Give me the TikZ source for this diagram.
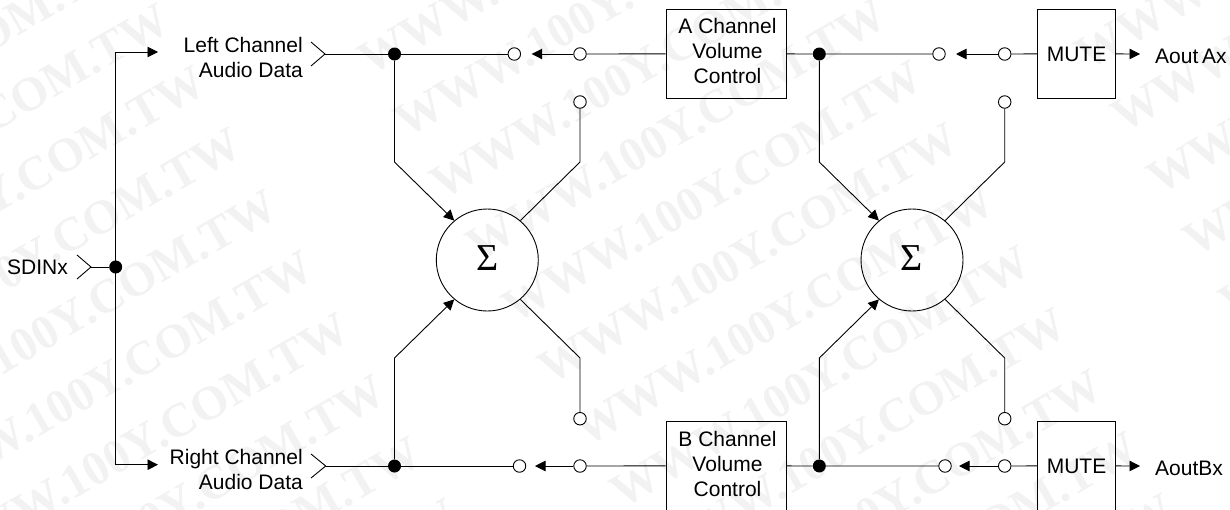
\documentclass[tikz,border=0pt]{standalone}
\usepackage{fontspec}
\setmainfont{Liberation Sans}
\newfontfamily\wmfont{Liberation Serif}
\usetikzlibrary{arrows.meta}
\definecolor{wmgray}{HTML}{F2F2F2}
\tikzset{
  wire/.style={draw=black,line width=0.9pt},
  arr/.style={wire,-{Triangle[length=10.5pt,width=10.5pt]}},
  dot/.style={circle,fill=black,inner sep=0pt,minimum size=13pt},
  term/.style={circle,draw=black,fill=white,line width=0.9pt,inner sep=0pt,minimum size=12.5pt},
  box/.style={draw=black,line width=0.9pt,inner sep=0pt},
  lbl/.style={inner sep=0pt,align=right,font=\fontsize{21}{25}\selectfont},
  ctr/.style={inner sep=0pt,align=center,font=\fontsize{21}{25}\selectfont},
  sum/.style={circle,draw=black,line width=0.9pt,inner sep=0pt,minimum size=102pt},
  sym/.style={inner sep=0pt,font=\wmfont\fontsize{38}{38}\selectfont},
  wm/.style={inner sep=0pt,anchor=base east,rotate=30,text=wmgray,font=\wmfont\bfseries\fontsize{48}{48}\selectfont},
}
\begin{document}
\begin{tikzpicture}[x=1pt,y=-1pt]
\useasboundingbox (0,0) rectangle (1230,509);
% faint background lettering
\foreach \m in {-1,0,1}{
  \foreach \k in {-6,...,6}{
    \node[wm,name=wm\m\k] at ({998+717*\m+36*\k},{210-5*\m+61.8*\k}) {WWW.100Y.COM.TW};
  }
}
% junctions and terminals
\node[dot] (sd) at (115.7,267) {};
\node[dot] (jl) at (394.5,54) {};
\node[dot] (jr) at (394.5,466) {};
\node[dot] (ja) at (819.3,54) {};
\node[dot] (jb) at (819.3,466) {};
\node[term] (t1) at (514.3,54) {};
\node[term] (t2) at (580,54) {};
\node[term] (t3) at (580,102) {};
\node[term] (t4) at (580,418.7) {};
\node[term] (t5) at (519.5,466) {};
\node[term] (t6) at (580,466) {};
\node[term] (t7) at (939,54) {};
\node[term] (t8) at (1004.7,54) {};
\node[term] (t9) at (1004.7,102) {};
\node[term] (t10) at (1004.7,418.7) {};
\node[term] (t11) at (945,466) {};
\node[term] (t12) at (1004.7,466) {};
\node[box,minimum width=120.7pt,minimum height=89.7pt] (va) at (726.4,53.8) {};
\node[box,minimum width=120.7pt,minimum height=89.7pt] (vb) at (726.4,465.8) {};
\node[box,minimum width=78.4pt,minimum height=89.7pt] (ma) at (1076.5,53.8) {};
\node[box,minimum width=78.4pt,minimum height=89.7pt] (mb) at (1076.5,465.8) {};
\node[ctr] (vat) at (727.5,51) {A Channel\\Volume\\Control};
\node[ctr] (vbt) at (727.5,463.5) {B Channel\\Volume\\Control};
\node[ctr] (mat) at (1076.5,54) {MUTE};
\node[ctr] (mbt) at (1076.5,466) {MUTE};
\node[sum] (s1) at (487.3,260) {};
\node[sum] (s2) at (912,260) {};
\node[sym] (s1t) at (487.3,258.5) {Σ};
\node[sym] (s2t) at (912,258.5) {Σ};
% labels
\node[lbl,anchor=east] (ll) at (303,57.5) {Left Channel\\Audio Data};
\node[lbl,anchor=east] (lr) at (303,469.5) {Right Channel\\Audio Data};
\node[lbl,anchor=east] (lsd) at (68,267) {SDINx};
\node[lbl,anchor=base west] (aa) at (1155,63.3) {Aout\hspace{-2pt} Ax};
\node[lbl,anchor=base west] (ab) at (1155,475.7) {AoutBx};
% input chevrons
\coordinate (cl) at (325,54); \coordinate (cr) at (325.7,466); \coordinate (cs) at (91,267);
\draw[wire] (311,42) -- (cl) -- (311,66);
\draw[wire] (311,454) -- (cr) -- (311,478);
\draw[wire] (77,255) -- (cs) -- (77,279);
\draw[wire] (cl) -- (jl);
\draw[wire] (cr) -- (jr);
\draw[wire] (cs) -- (sd);
% SDIN bus
\coordinate (al) at (158,52); \coordinate (ar) at (158,464.7);
\draw[arr] (al -| sd) -- (al);
\draw[arr] (ar -| sd) -- (ar);
\draw[wire] (al -| sd) -- (ar -| sd);
% top and bottom rails
\coordinate (h1) at (531.7,54); \coordinate (h2) at (956,54);
\coordinate (h3) at (535,466); \coordinate (h4) at (959,466);
\coordinate (h5) at (1140,54); \coordinate (h6) at (1140,466);
\draw[wire] (jl) -- (t1);
\draw[arr] (t2) -- (h1);
\draw[wire] (va) -- (t2);
\draw[wire] (va) -- (ja) -- (t7);
\draw[arr] (t8) -- (h2);
\draw[wire] (ma) -- (t8);
\draw[arr] (ma) -- (h5);
\draw[wire] (jr) -- (t5);
\draw[arr] (t6) -- (h3);
\draw[wire] (vb) -- (t6);
\draw[wire] (vb) -- (jb) -- (t11);
\draw[arr] (t12) -- (h4);
\draw[wire] (mb) -- (t12);
\draw[arr] (mb) -- (h6);
% summers
\draw[arr] (jl) -- (394.5,162) -- (s1.130);
\draw[arr] (jr) -- (394.5,358) -- (s1.230);
\draw[wire] (t3) -- (580,162) -- (s1.50);
\draw[wire] (t4) -- (580,358) -- (s1.310);
\draw[arr] (ja) -- (819.3,162) -- (s2.130);
\draw[arr] (jb) -- (819.3,358) -- (s2.230);
\draw[wire] (t9) -- (1004.7,162) -- (s2.50);
\draw[wire] (t10) -- (1004.7,358) -- (s2.310);
\end{tikzpicture}
\end{document}
